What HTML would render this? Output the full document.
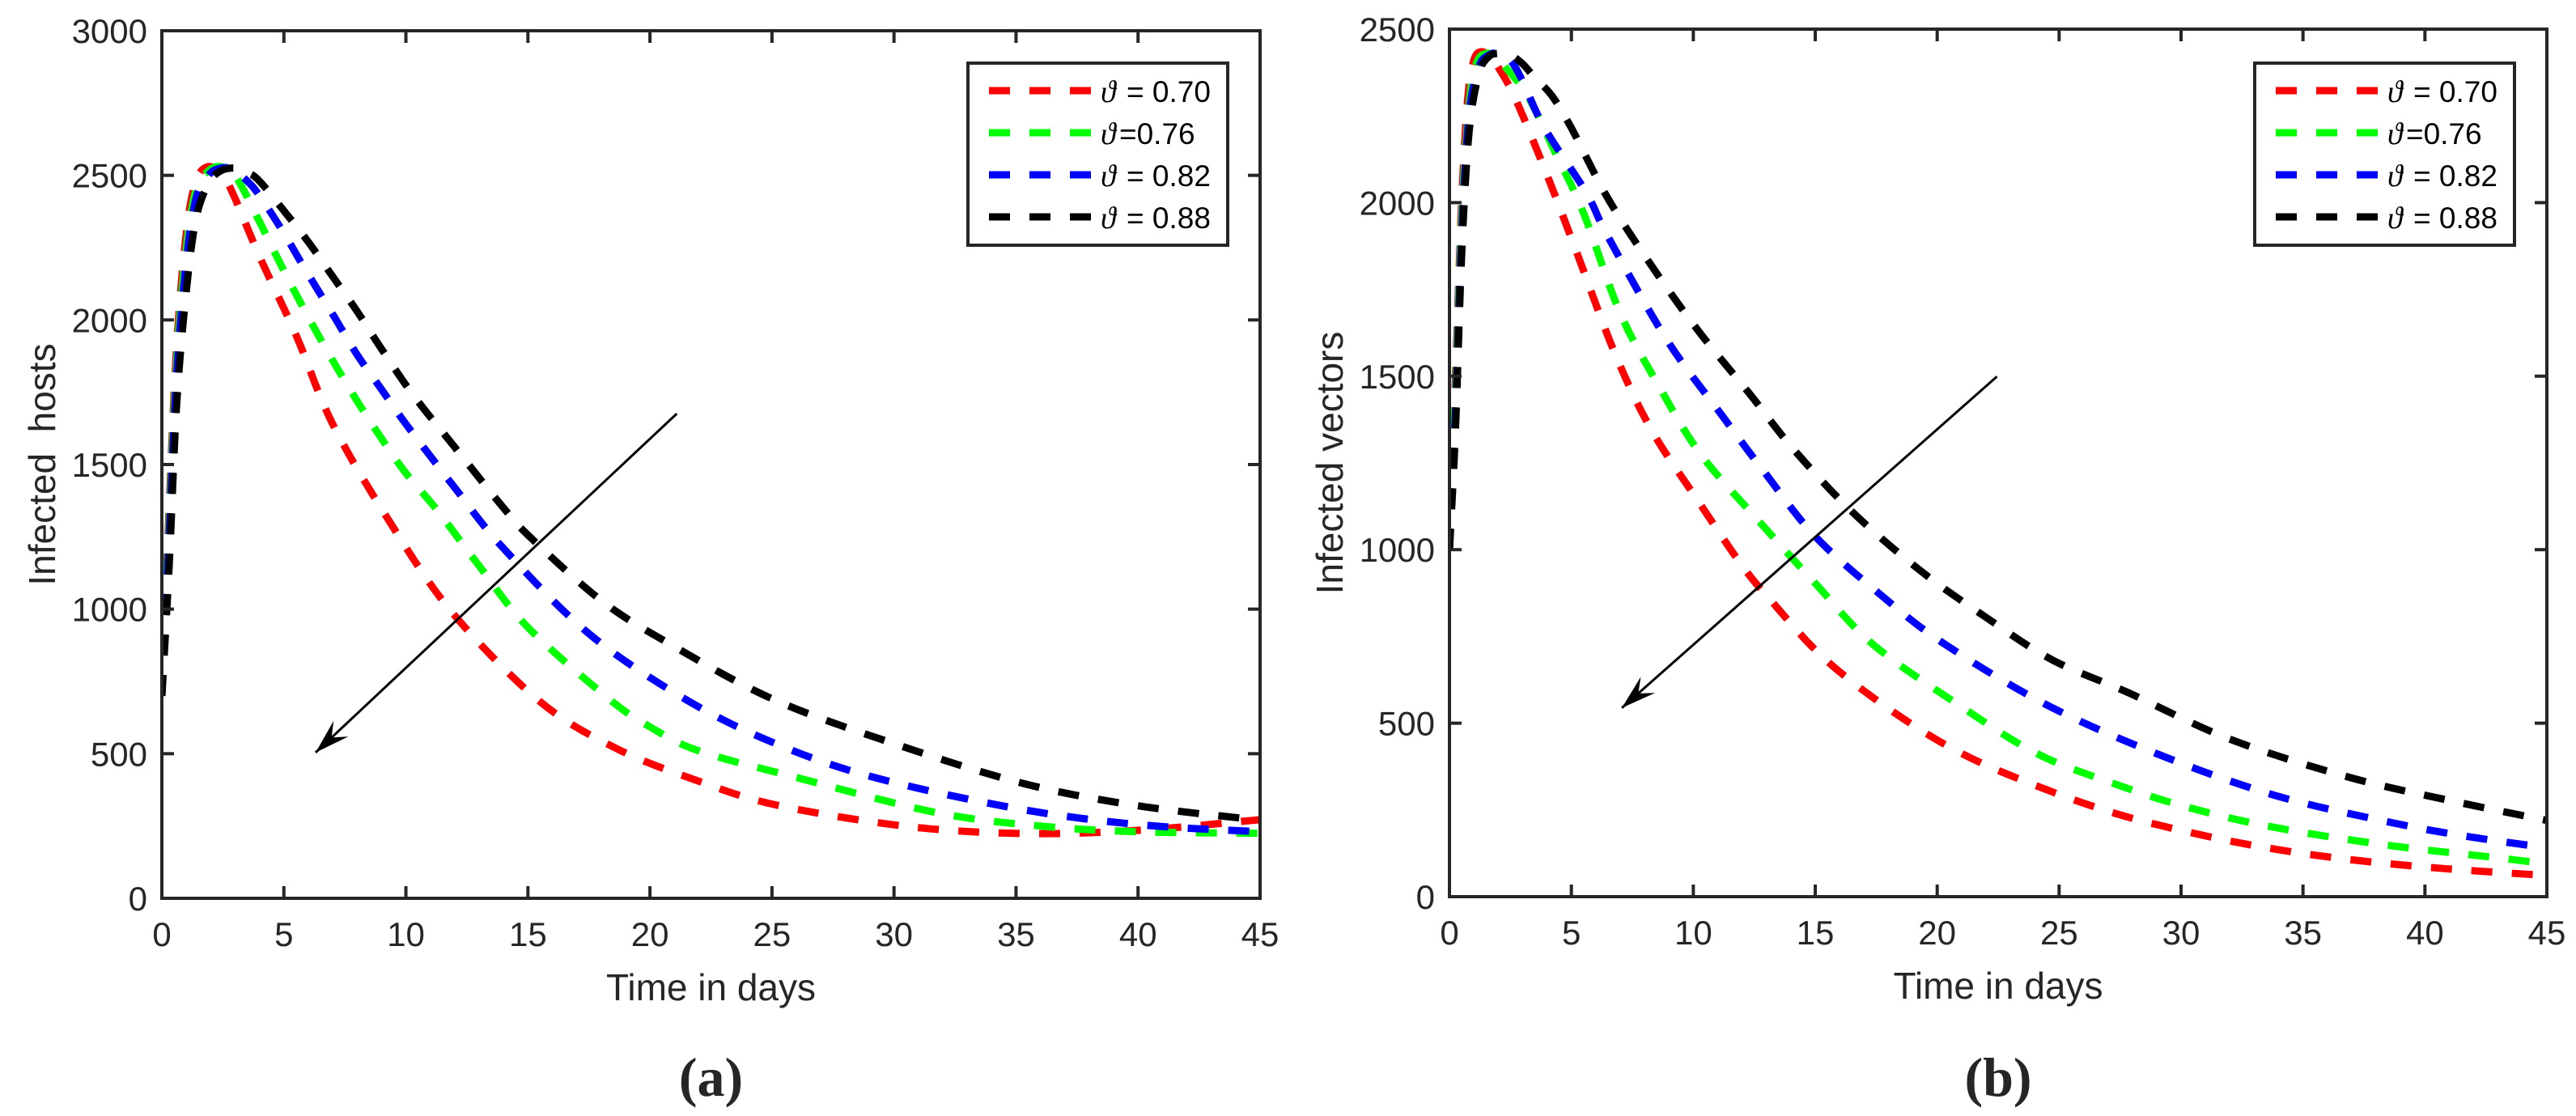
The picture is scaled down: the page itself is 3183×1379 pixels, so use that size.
<!DOCTYPE html>
<html><head><meta charset="utf-8">
<style>
html,body{margin:0;padding:0;background:#fff;}
svg{display:block;}
text{font-family:"Liberation Sans",Arial,sans-serif;fill:#262626;}
</style></head>
<body>
<svg id="fig" width="3183" height="1379" viewBox="0 0 3183 1379" xmlns="http://www.w3.org/2000/svg"></svg>
<script>
// ---------- Data ----------
const legendLabels = ["0.70", "0.76", "0.82", "0.88"];
const seriesColors = ["#ff0000", "#00ff00", "#0000ff", "#000000"];
const xTicks = [0,5,10,15,20,25,30,35,40,45];
const yTicksA = [0,500,1000,1500,2000,2500,3000];
const yTicksB = [0,500,1000,1500,2000,2500];

// Panel (a): infected hosts
const hostRedT = [0,0.3,0.6,1,1.4,1.9,2.5,3,4,5.5,7,9.3,11.9,15.5,18.6,21.9,25.2,30.5,35.3,40,45];
const hostRedV = [700,1350,1900,2300,2480,2530,2500,2420,2220,1947,1640,1307,988,680,519,408,322,249,224,235,272];
const hostGreenT = [0,0.3,0.6,1,1.4,1.9,2.4,3,4,5,6,7,8,9,10,11.3,13,15,18.3,20,22,25.9,31.7,36,40,45];
const hostGreenV = [700,1300,1850,2250,2450,2515,2530,2500,2340,2170,2010,1860,1720,1590,1470,1340,1150,937,691,593,510,420,297,250,230,225];
const hostBlueT = [0,0.3,0.6,1,1.4,1.9,2.4,2.9,3.5,4,5,5.9,7,8,9,10,12,14,17.5,21.4,25,29.1,35,40,45];
const hostBlueV = [700,1250,1800,2200,2420,2500,2525,2520,2480,2430,2300,2171,2020,1880,1760,1640,1420,1210,915,691,540,420,311,255,230];
const hostBlackT = [0,0.3,0.6,1,1.4,1.9,2.4,3,3.5,4,5.1,6,7,8,9,10.3,12,14,15.2,18,20.6,25,30.1,35.3,40,45];
const hostBlackV = [700,1150,1700,2100,2350,2470,2515,2525,2510,2480,2367,2270,2150,2030,1900,1740,1560,1350,1240,1030,890,690,532,397,320,270];

// Panel (b): infected vectors
const vecRedT = [0,0.25,0.5,0.75,1,1.3,1.7,2,2.7,4,5.2,6.8,8.3,10.2,12,13.2,15.3,17.9,20.8,23.8,27.2,30.5,33.5,36.9,40.8,45];
const vecRedV = [1000,1500,2000,2300,2410,2435,2420,2390,2300,2080,1860,1563,1343,1140,954,852,691,547,420,327,242,183,141,107,81,61];
const vecGreenT = [0,0.25,0.5,0.8,1.1,1.5,1.9,2.3,3.2,4.3,5.5,7,8.6,10.3,12.6,15,17.4,21,24.1,27.2,30.2,33.8,38.4,42.6,45];
const vecGreenV = [1000,1450,1950,2280,2400,2430,2420,2390,2308,2150,1970,1682,1470,1275,1089,903,725,547,412,327,259,200,149,115,95];
const vecBlueT = [0,0.25,0.5,0.8,1.2,1.6,2,2.5,3,3.9,5.6,6.5,8.9,11.1,12.9,15,17.7,20.2,24.4,29,33.8,38.4,41.7,45];
const vecBlueV = [1000,1400,1900,2250,2390,2425,2430,2410,2350,2215,2030,1902,1606,1394,1225,1038,869,733,556,412,293,217,174,141];
const vecBlackT = [0,0.25,0.5,0.8,1.2,1.6,2,2.5,3,3.5,4.2,5,6.5,8.3,10.2,12.3,14.1,16.5,19.3,22,24.7,27.8,32,36.9,41.1,45];
const vecBlackV = [1000,1350,1850,2200,2370,2420,2430,2425,2400,2360,2308,2215,2012,1817,1631,1450,1290,1110,940,805,683,589,454,344,276,220];

// Arrow annotations (data units): [tailT, tailV, tipT, tipV]
const arrowA = [21.1, 1676, 6.3, 504];
const arrowB = [22.45, 1499, 7.07, 544];

// ---------- Rendering ----------
const NS = "http://www.w3.org/2000/svg";
const svg = document.getElementById("fig");
function mk(tag, attrs, parent) {
  const e = document.createElementNS(NS, tag);
  for (const k in attrs) e.setAttribute(k, attrs[k]);
  (parent || svg).appendChild(e);
  return e;
}
function smoothPath(pts) {
  let d = "M" + pts[0][0].toFixed(1) + "," + pts[0][1].toFixed(1);
  for (let i = 0; i < pts.length - 1; i++) {
    const p0 = pts[Math.max(0, i - 1)], p1 = pts[i], p2 = pts[i + 1], p3 = pts[Math.min(pts.length - 1, i + 2)];
    const c1x = p1[0] + (p2[0] - p0[0]) / 6, c1y = p1[1] + (p2[1] - p0[1]) / 6;
    const c2x = p2[0] - (p3[0] - p1[0]) / 6, c2y = p2[1] - (p3[1] - p1[1]) / 6;
    d += " C" + c1x.toFixed(1) + "," + c1y.toFixed(1) + " " + c2x.toFixed(1) + "," + c2y.toFixed(1) + " " + p2[0].toFixed(1) + "," + p2[1].toFixed(1);
  }
  return d;
}

function panel(cfg) {
  const g = mk("g", {});
  
  
  const L = cfg.left, R = cfg.right, T = cfg.top, B = cfg.bottom;
  const xS = t => L + (t - 0) / 45 * (R - L);
  const yS = v => B - v / cfg.ymax * (B - T);

  const cid = cfg.name + "-clip";
  const cp = mk("clipPath", {id: cid}, g);
  mk("rect", {x: L, y: T, width: R - L, height: B - T}, cp);

  const sg = mk("g", {"clip-path": "url(#" + cid + ")"}, g);
  cfg.series.forEach((s, i) => {
    const pts = s.t.map((t, j) => [xS(t), yS(s.v[j])]);
    const p = mk("path", {d: smoothPath(pts), fill: "none", stroke: seriesColors[i], "stroke-width": 9, "stroke-dasharray": "26 24"}, sg);
    
    
  });

  const a = cfg.arrow;
  const x1 = xS(a[0]), y1 = yS(a[1]), x2 = xS(a[2]), y2 = yS(a[3]);
  const ag = mk("g", {}, g);
  
  
  mk("line", {x1: x1, y1: y1, x2: x2, y2: y2, stroke: "#000", "stroke-width": 3}, ag);
  const ang = Math.atan2(y2 - y1, x2 - x1), hl = 45, hw = 0.3;
  const bx1 = x2 - hl * Math.cos(ang - hw), by1 = y2 - hl * Math.sin(ang - hw);
  const bx2 = x2 - hl * Math.cos(ang + hw), by2 = y2 - hl * Math.sin(ang + hw);
  const mx = x2 - hl * 0.6 * Math.cos(ang), my = y2 - hl * 0.6 * Math.sin(ang);
  mk("path", {d: `M${x2},${y2} L${bx1},${by1} L${mx},${my} L${bx2},${by2} Z`, fill: "#000"}, ag);

  const box = mk("rect", {x: L, y: T, width: R - L, height: B - T, fill: "none", stroke: "#262626", "stroke-width": 4}, g);
  
  

  xTicks.forEach(t => {
    const x = xS(t);
    mk("line", {x1: x, y1: B, x2: x, y2: B - 15, stroke: "#262626", "stroke-width": 4}, g);
    mk("line", {x1: x, y1: T, x2: x, y2: T + 15, stroke: "#262626", "stroke-width": 4}, g);
    const tx = mk("text", {x: x, y: B + 59, "font-size": 42, "text-anchor": "middle"}, g);
    tx.textContent = t;
    
    
  });
  cfg.yTicks.forEach(v => {
    const y = yS(v);
    mk("line", {x1: L, y1: y, x2: L + 15, y2: y, stroke: "#262626", "stroke-width": 4}, g);
    mk("line", {x1: R, y1: y, x2: R - 15, y2: y, stroke: "#262626", "stroke-width": 4}, g);
    const ty = mk("text", {x: L - 18, y: y + 15, "font-size": 42, "text-anchor": "end"}, g);
    ty.textContent = v;
    
    
  });

  const xt = mk("text", {x: (L + R) / 2, y: B + 126, "font-size": 46, "text-anchor": "middle"}, g);
  xt.textContent = "Time in days";
  
  
  const yc = (T + B) / 2, yx = L - 132;
  const yt = mk("text", {x: yx, y: yc, "font-size": 46, "text-anchor": "middle", transform: `rotate(-90 ${yx} ${yc})`, style: "white-space:pre"}, g);
  yt.textContent = cfg.ylabel;
  
  

  const pl = mk("text", {x: (L + R) / 2, y: 1354, "font-size": 68, "text-anchor": "middle", "font-weight": "bold", style: "font-family:'Liberation Serif',serif"}, g);
  pl.textContent = cfg.plabel;
  
  

  const lg = mk("g", {}, g);
  
  
  const lx = cfg.legendX, ly = 78;
  mk("rect", {x: lx, y: ly, width: 321, height: 225, fill: "#fff", stroke: "#262626", "stroke-width": 4}, lg);
  const rows = [112, 164, 216, 268];
  legendLabels.forEach((lab, i) => {
    const e = mk("g", {}, lg);
    
    
    const ry = rows[i];
    mk("line", {x1: lx + 26, y1: ry, x2: lx + 152, y2: ry, stroke: seriesColors[i], "stroke-width": 9, "stroke-dasharray": "26 24"}, e);
    const th = mk("text", {x: lx + 164, y: ry + 14, "font-size": 38, "font-style": "italic", style: "font-family:'Liberation Serif',serif;fill:#000"}, e);
    th.textContent = "ϑ";
    const tv = mk("text", {x: lx + (i === 1 ? 187 : 196), y: ry + 14, "font-size": 37, style: "fill:#000"}, e);
    tv.textContent = (i === 1 ? "=" : "= ") + lab;
  });
}

panel({name: "panel-a-hosts", left: 200, right: 1557, top: 38, bottom: 1110, ymax: 3000, yTicks: yTicksA,
  ylabel: "Infected  hosts", plabel: "(a)", legendX: 1196, arrow: arrowA,
  series: [{t: hostRedT, v: hostRedV}, {t: hostGreenT, v: hostGreenV}, {t: hostBlueT, v: hostBlueV}, {t: hostBlackT, v: hostBlackV}]});
panel({name: "panel-b-vectors", left: 1791, right: 3147, top: 36, bottom: 1108, ymax: 2500, yTicks: yTicksB,
  ylabel: "Infected vectors", plabel: "(b)", legendX: 2786, arrow: arrowB,
  series: [{t: vecRedT, v: vecRedV}, {t: vecGreenT, v: vecGreenV}, {t: vecBlueT, v: vecBlueV}, {t: vecBlackT, v: vecBlackV}]});
</script>
</body></html>
